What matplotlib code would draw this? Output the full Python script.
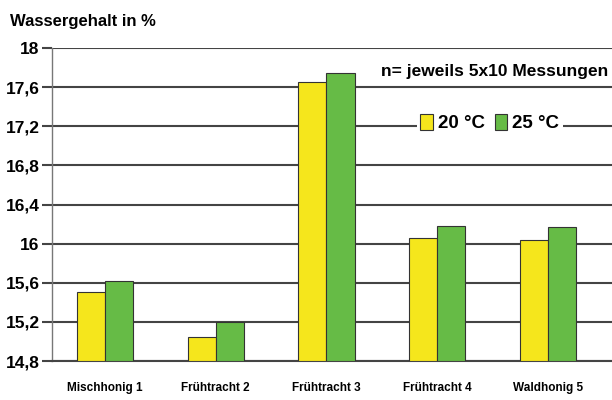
import numpy as np
import matplotlib.pyplot as plt

categories = ['Mischhonig 1', 'Frühtracht 2', 'Frühtracht 3', 'Frühtracht 4', 'Waldhonig 5']
t20 = [15.51, 15.05, 17.65, 16.06, 16.04]
t25 = [15.62, 15.20, 17.74, 16.18, 16.17]
yticks = [14.8, 15.2, 15.6, 16.0, 16.4, 16.8, 17.2, 17.6, 18.0]
ytick_labels = ['14,8', '15,2', '15,6', '16', '16,4', '16,8', '17,2', '17,6', '18']

plt.rcParams['font.family'] = ['Liberation Sans', 'DejaVu Sans']

fig = plt.figure(figsize=(6.12, 4.0), dpi=100)
ax = fig.add_axes([0.085, 0.0975, 0.915, 0.7825])

x = np.arange(len(categories))
w = 0.255
ax.bar(x - w / 2, np.array(t20) - 14.8, w, bottom=14.8, color='#f5e61c',
       edgecolor='#333333', linewidth=0.8, label='20 °C', zorder=3)
ax.bar(x + w / 2, np.array(t25) - 14.8, w, bottom=14.8, color='#66bb46',
       edgecolor='#333333', linewidth=0.8, label='25 °C', zorder=3)

ax.set_ylim(14.8, 18.0)
ax.set_xlim(-0.48, 4.58)
ax.set_yticks(yticks)
ax.set_yticklabels(ytick_labels, fontsize=12.5, fontweight='bold')
ax.set_xticks(x)
ax.set_xticklabels(categories, fontsize=8.5, fontweight='bold')
ax.tick_params(axis='x', length=0, pad=15)
ax.tick_params(axis='y', length=7, width=1.5, color='#444444', pad=2)
ax.yaxis.grid(True, color='#444444', linewidth=1.5, zorder=0)
ax.set_axisbelow(True)

for s in ['top', 'right']:
    ax.spines[s].set_visible(False)
ax.spines['left'].set_color('#777777')
ax.spines['left'].set_linewidth(1.0)
ax.spines['bottom'].set_color('#444444')
ax.spines['bottom'].set_linewidth(1.5)

fig.text(0.016, 0.935, 'Wassergehalt in %', fontsize=12, fontweight='bold',
         va='baseline')
ax.text(0.993, 0.925, 'n= jeweils 5x10 Messungen', transform=ax.transAxes,
        ha='right', va='center', fontsize=12.5, fontweight='bold', zorder=5)

leg = ax.legend(loc='center', bbox_to_anchor=(0.782, 0.76), ncol=2,
                frameon=True, fancybox=False, edgecolor='none',
                framealpha=1.0, fontsize=13.5, handlelength=0.65,
                handleheight=0.9, handletextpad=0.3, columnspacing=0.5,
                borderpad=0.2)
for t in leg.get_texts():
    t.set_fontweight('bold')

fig.savefig('out.png', dpi=100)
